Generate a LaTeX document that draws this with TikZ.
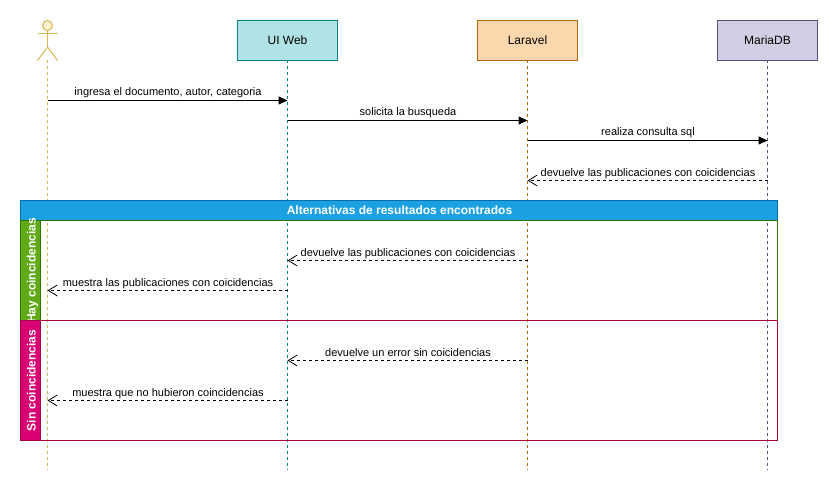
\documentclass[tikz,border=0pt]{standalone}
\usepackage{fontspec}
\setmainfont{Liberation Sans}
\usetikzlibrary{arrows.meta,positioning,calc}
\definecolor{webfill}{HTML}{B0E3E6}
\definecolor{webline}{HTML}{0E8088}
\definecolor{lavfill}{HTML}{FAD7AC}
\definecolor{lavline}{HTML}{B46504}
\definecolor{dbfill}{HTML}{D0CEE2}
\definecolor{dbline}{HTML}{56517E}
\definecolor{actfill}{HTML}{FFF2CC}
\definecolor{actline}{HTML}{D6B656}
\definecolor{altfill}{HTML}{1BA1E2}
\definecolor{altline}{HTML}{006EAF}
\definecolor{hayfill}{HTML}{60A917}
\definecolor{hayline}{HTML}{2D7600}
\definecolor{sinfill}{HTML}{D80073}
\definecolor{sinline}{HTML}{A50040}

\begin{document}
\begin{tikzpicture}[x=1pt, y=-1pt, line width=1pt,
  %% ── Node styles ──────────────────────────────────────────────────────────
  part/.style={draw, minimum width=100pt, minimum height=40pt, outer sep=0pt,
               font=\fontsize{12}{14}\selectfont},
  section/.style={draw, anchor=north west, minimum width=757pt, outer sep=0pt},
  strip/.style={draw, anchor=north west, minimum width=20pt, outer sep=0pt},
  striptext/.style={rotate=90, text=white, inner sep=0pt, text height=9pt, text depth=0pt,
                    font=\fontsize{12}{14}\selectfont\bfseries},
  %% ── Arrow styles ─────────────────────────────────────────────────────────
  life/.style={dash pattern=on 3pt off 3pt},
  call/.style={-{Triangle[length=9pt, width=8pt]}, black},
  reply/.style={-{Straight Barb[length=9pt, width=11pt, line width=.8pt]},
                black, dash pattern=on 3pt off 3pt},
  msg/.style={midway, above, inner sep=0pt, yshift=1.5pt, xshift=.5pt, text height=8pt,
              text depth=2.5pt, font=\fontsize{11}{13}\selectfont, text=black}
]
\useasboundingbox (0,0) rectangle (838,492);

%% ── Participants (y = 40.5) ─────────────────────────────────────────────────
\node[part, draw=webline, fill=webfill] (web) at (287.5, 40.5) {UI Web};
\node[part, draw=lavline, fill=lavfill] (lav) at (527.5, 40.5) {Laravel};
\node[part, draw=dbline,  fill=dbfill]  (db)  at (767.5, 40.5) {MariaDB};

%% ── Actor ───────────────────────────────────────────────────────────────────
\node[circle, draw=actline, fill=actfill, minimum size=10pt, inner sep=0pt,
      outer sep=0pt] (head) at (47.5, 25.5) {};
\coordinate (hip)  at (47.5, 47);
\coordinate (foot) at (47.5, 60.5);
\draw[actline] (37.5, 33.8) -- (57.5, 33.8);
\draw[actline] (head.south) -- (hip);
\draw[actline] (37.5, 60.5) -- (hip) -- (57.5, 60.5);

%% ── Lifelines ───────────────────────────────────────────────────────────────
\coordinate (footweb) at (287.5, 470);
\coordinate (footlav) at (527.5, 470);
\coordinate (footdb)  at (767.5, 470);
\coordinate (footact) at (47.5, 470);
\draw[life, actline] (foot)      -- (footact);
\draw[life, webline] (web.south) -- (footweb);
\draw[life, lavline] (lav.south) -- (footlav);
\draw[life, dbline]  (db.south)  -- (footdb);

%% ── Alternative frame ───────────────────────────────────────────────────────
\node[section, draw=altline, fill=altfill, minimum height=20pt, text=white,
      font=\fontsize{12}{14}\selectfont\bfseries] (alt) at (20.5, 200.5)
      {\hspace{1pt}Alternativas de resultados encontrados};
\node[section, draw=hayline, minimum height=100pt] (hay) at (20.5, 220.5) {};
\node[strip, draw=hayline, fill=hayfill, minimum height=100pt] (haybar) at (20.5, 220.5) {};
\node[striptext] (haytext) at (31, 270.5) {Hay coincidencias};
\node[section, draw=sinline, minimum height=120pt] (sin) at (20.5, 320.5) {};
\node[strip, draw=sinline, fill=sinfill, minimum height=120pt] (sinbar) at (20.5, 320.5) {};
\node[striptext] (sintext) at (31, 380.5) {Sin coincidencias};

%% ── Message anchors on the lifelines ────────────────────────────────────────
\coordinate (a1) at (47.5, 100.5);   \coordinate (b1) at (287.5, 100.5);
\coordinate (a2) at (287.5, 120.5);  \coordinate (b2) at (527.5, 120.5);
\coordinate (a3) at (527.5, 140.5);  \coordinate (b3) at (767.5, 140.5);
\coordinate (a4) at (767.5, 180.5);  \coordinate (b4) at (527.5, 180.5);
\coordinate (a5) at (527.5, 260.5);  \coordinate (b5) at (287.5, 260.5);
\coordinate (a6) at (287.5, 290.5);  \coordinate (b6) at (47.5, 290.5);
\coordinate (a7) at (527.5, 360.5);  \coordinate (b7) at (287.5, 360.5);
\coordinate (a8) at (287.5, 400.5);  \coordinate (b8) at (47.5, 400.5);

%% ── Arrows: requests ────────────────────────────────────────────────────────
\draw[call] (a1) -- (b1) node[msg] (m1) {ingresa el documento, autor, categoria};
\draw[call] (a2) -- (b2) node[msg] (m2) {solicita la busqueda};
\draw[call] (a3) -- (b3) node[msg] (m3) {realiza consulta sql};

%% ── Arrows: replies (dashed) ────────────────────────────────────────────────
\draw[reply] (a4) -- (b4) node[msg] (m4) {devuelve las publicaciones con coicidencias};
\draw[reply] (a5) -- (b5) node[msg] (m5) {devuelve las publicaciones con coicidencias};
\draw[reply] (a6) -- (b6) node[msg] (m6) {muestra las publicaciones con coicidencias};
\draw[reply] (a7) -- (b7) node[msg] (m7) {devuelve un error sin coicidencias};
\draw[reply] (a8) -- (b8) node[msg] (m8) {muestra que no hubieron coincidencias};

\end{tikzpicture}
\end{document}
